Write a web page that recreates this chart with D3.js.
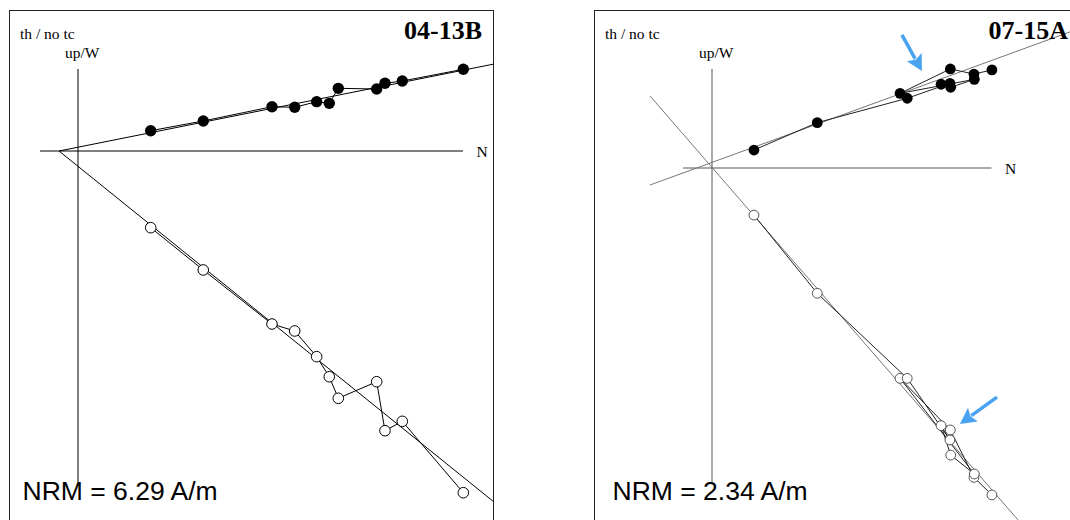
<!DOCTYPE html>
<html>
<head>
<meta charset="utf-8">
<script src="https://cdn.jsdelivr.net/npm/d3@7"></script>
<style>
  html, body { margin: 0; padding: 0; background: #fff; }
  svg { display: block; }
</style>
</head>
<body>
<svg id="chart" width="1070" height="520"></svg>
<script>
// ---------------- DATA (A/m, demagnetization steps, NRM first) ----------------
const treatmentLabel = "th / no tc";
const axisLabels = { vertical: "up/W", horizontal: "N" };

// Sample 04-13B
const leftId = "04-13B";
const leftNRM = 6.29;
const leftN  = [4.648, 3.912, 3.703, 3.603, 3.140, 3.031, 2.879, 2.614, 2.340, 1.511, 0.877];
const leftW  = [0.986, 0.844, 0.817, 0.748, 0.756, 0.575, 0.595, 0.527, 0.534, 0.362, 0.245];
const leftUp = [-4.122, -3.261, -3.374, -2.783, -2.983, -2.723, -2.481, -2.171, -2.087, -1.435, -0.925];
// fitted directions (two end points each)
const leftFitHN = [-0.229, 5.018], leftFitHW  = [0, 1.049];
const leftFitVN = [-0.229, 5.018], leftFitVUp = [0, -4.234];
// axis extents
const leftAxisN = [-0.458, 4.644], leftAxisV = [0.989, -3.993];

// Sample 07-15A
const rightId = "07-15A";
const rightNRM = 2.34;
const rightN  = [1.481, 1.386, 1.261, 0.995, 1.388, 1.263, 1.212, 1.259, 1.033, 0.557, 0.222];
const rightW  = [0.519, 0.497, 0.524, 0.395, 0.469, 0.427, 0.443, 0.448, 0.369, 0.240, 0.095];
const rightUp = [-1.730, -1.637, -1.386, -1.113, -1.619, -1.519, -1.363, -1.439, -1.113, -0.663, -0.249];
const rightFitHN = [-0.328, 1.894], rightFitHW  = [-0.090, 0.720];
const rightFitVN = [-0.328, 1.619], rightFitVUp = [0.381, -1.862];
const rightAxisN = [-0.153, 1.479], rightAxisV = [0.524, -1.661];
// highlight arrows (tail -> tip), in data units
const rightArrowN = [[1.005, 1.111], [1.508, 1.312]];
const rightArrowV = [[0.704, 0.513], [-1.212, -1.354]];

// ---------------- DRAWING ----------------
const svg = d3.select("#chart");

function drawPanel(cfg) {
  const clipId = "clip-" + cfg.key;
  svg.append("clipPath").attr("id", clipId)
    .append("rect")
    .attr("x", cfg.box.x).attr("y", cfg.box.y)
    .attr("width", cfg.box.w).attr("height", cfg.box.h);

  const x = d3.scaleLinear().domain([0, 1]).range([cfg.ox, cfg.ox + cfg.k]);
  const y = d3.scaleLinear().domain([0, 1]).range([cfg.oy, cfg.oy - cfg.k]);

  const g = svg.append("g").attr("clip-path", `url(#${clipId})`);

  // frame (no bottom edge visible)
  g.append("path")
    .attr("d", `M${cfg.box.x},${cfg.box.y + cfg.box.h + 5}V${cfg.box.y}H${cfg.box.x + cfg.box.w}V${cfg.box.y + cfg.box.h + 5}`)
    .attr("fill", "none").attr("stroke", "#222").attr("stroke-width", 2);

  // axes
  g.append("line")
    .attr("x1", x(cfg.axisN[0])).attr("x2", x(cfg.axisN[1]))
    .attr("y1", y(0)).attr("y2", y(0))
    .attr("stroke", cfg.axisColor).attr("stroke-width", 1);
  g.append("line")
    .attr("x1", x(0)).attr("x2", x(0))
    .attr("y1", y(cfg.axisV[0])).attr("y2", y(cfg.axisV[1]))
    .attr("stroke", cfg.axisColor).attr("stroke-width", 1);

  // fit lines
  const fits = [[cfg.fitHN, cfg.fitHW], [cfg.fitVN, cfg.fitVUp]];
  fits.forEach(([fn, fv]) => {
    g.append("line")
      .attr("x1", x(fn[0])).attr("y1", y(fv[0]))
      .attr("x2", x(fn[1])).attr("y2", y(fv[1]))
      .attr("stroke", cfg.fitColor).attr("stroke-width", 1);
  });

  const line = d3.line().x(d => x(d[0])).y(d => y(d[1]));
  const hor = cfg.N.map((n, i) => [n, cfg.W[i]]);
  const ver = cfg.N.map((n, i) => [n, cfg.Up[i]]);

  g.append("path").attr("d", line(hor)).attr("fill", "none")
    .attr("stroke", cfg.connColor).attr("stroke-width", 1);
  g.append("path").attr("d", line(ver)).attr("fill", "none")
    .attr("stroke", cfg.connColor).attr("stroke-width", 1);

  g.selectAll(null).data(hor).join("circle")
    .attr("cx", d => x(d[0])).attr("cy", d => y(d[1]))
    .attr("r", cfg.rFilled).attr("fill", "#000");
  g.selectAll(null).data(ver).join("circle")
    .attr("cx", d => x(d[0])).attr("cy", d => y(d[1]))
    .attr("r", cfg.rOpen).attr("fill", "#fff")
    .attr("stroke", cfg.openStroke).attr("stroke-width", 1);

  // arrows
  if (cfg.arrowsN) {
    cfg.arrowsN.forEach((an, i) => {
      const av = cfg.arrowsV[i];
      const x0 = x(an[0]), y0 = y(av[0]), x1 = x(an[1]), y1 = y(av[1]);
      const dx = x1 - x0, dy = y1 - y0, len = Math.hypot(dx, dy);
      const ux = dx / len, uy = dy / len, px = -uy, py = ux;
      const hl = 16, hw = 8.5;
      const bx = x1 - ux * hl, by = y1 - uy * hl;
      g.append("line").attr("x1", x0).attr("y1", y0).attr("x2", bx + ux * 2).attr("y2", by + uy * 2)
        .attr("stroke", "#4aa3f0").attr("stroke-width", 3.5);
      g.append("path")
        .attr("d", `M${x1},${y1}L${bx + px * hw},${by + py * hw}L${bx + ux * 3},${by + uy * 3}L${bx - px * hw},${by - py * hw}Z`)
        .attr("fill", "#4aa3f0");
    });
  }

  // texts
  g.append("text").attr("x", cfg.box.x + 11).attr("y", 39)
    .attr("font-family", "'Liberation Serif', 'Times New Roman', serif")
    .attr("font-size", 15.5).text(treatmentLabel);
  g.append("text").attr("x", cfg.box.x + cfg.box.w - 12).attr("y", 39)
    .attr("text-anchor", "end")
    .attr("font-family", "'Liberation Serif', 'Times New Roman', serif")
    .attr("font-weight", "bold").attr("font-size", 26).text(cfg.id);
  g.append("text").attr("x", x(0) - 13).attr("y", 58)
    .attr("font-family", "'Liberation Serif', 'Times New Roman', serif")
    .attr("font-size", 15.5).text(axisLabels.vertical);
  g.append("text").attr("x", x(cfg.axisN[1]) + 13.5).attr("y", y(0) + 6)
    .attr("font-family", "'Liberation Serif', 'Times New Roman', serif")
    .attr("font-size", 15.5).text(axisLabels.horizontal);
  g.append("text").attr("x", cfg.box.x + cfg.nrmDx).attr("y", 500)
    .attr("font-family", "'Liberation Sans', Arial, Helvetica, sans-serif")
    .attr("font-size", 26.5).text(`NRM = ${cfg.nrm.toFixed(2)} A/m`);
}

drawPanel({
  key: "left", id: leftId, nrm: leftNRM,
  box: { x: 9, y: 10, w: 485, h: 515 }, ox: 78, oy: 151, k: 82.9,
  N: leftN, W: leftW, Up: leftUp,
  fitHN: leftFitHN, fitHW: leftFitHW, fitVN: leftFitVN, fitVUp: leftFitVUp,
  axisN: leftAxisN, axisV: leftAxisV,
  axisColor: "#000", fitColor: "#000", connColor: "#000", openStroke: "#000",
  rFilled: 5.7, rOpen: 5.3, nrmDx: 13.5
});

drawPanel({
  key: "right", id: rightId, nrm: rightNRM,
  box: { x: 594, y: 10, w: 486, h: 515 }, ox: 712, oy: 168, k: 189,
  N: rightN, W: rightW, Up: rightUp,
  fitHN: rightFitHN, fitHW: rightFitHW, fitVN: rightFitVN, fitVUp: rightFitVUp,
  axisN: rightAxisN, axisV: rightAxisV,
  axisColor: "#555", fitColor: "#777", connColor: "#222", openStroke: "#555",
  rFilled: 5.4, rOpen: 4.9, nrmDx: 18.5,
  arrowsN: rightArrowN, arrowsV: rightArrowV
});
</script>
</body>
</html>
